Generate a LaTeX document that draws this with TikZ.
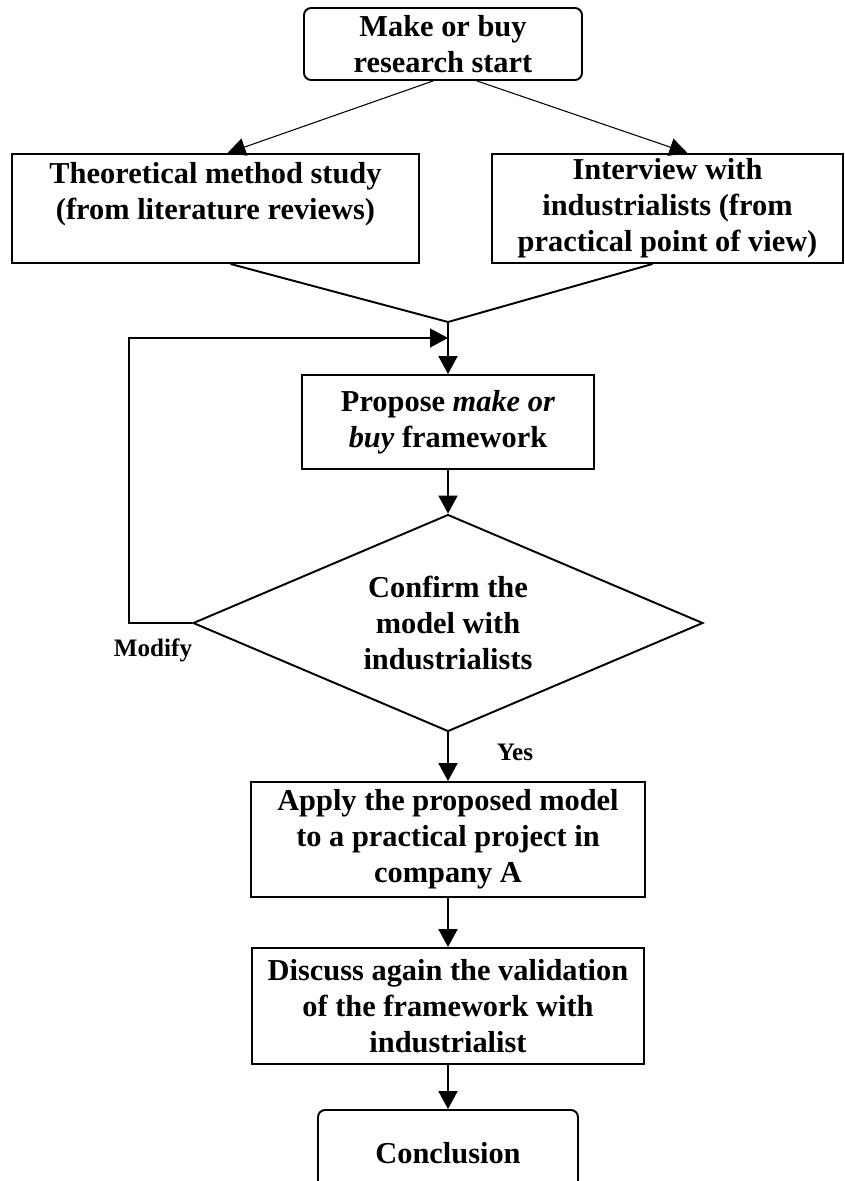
\documentclass[tikz,border=0pt]{standalone}
\usepackage{fontspec}
\setmainfont{Liberation Serif}
\usetikzlibrary{arrows.meta,shapes.geometric,calc}

\begin{document}
\begin{tikzpicture}[x=0.02cm,y=-0.02cm,
  box/.style={draw,black,line width=1.1pt,align=center,inner sep=0pt,
    font=\bfseries\fontsize{17.3}{20.5}\selectfont},
  endbox/.style={box,rounded corners=0.14cm},
  decision/.style={box,diamond,aspect=2.35},
  flow/.style={black,line width=1.1pt,-{Triangle[length=0.36cm,width=0.38cm]}},
  thinflow/.style={black,line width=0.6pt,-{Triangle[length=0.36cm,width=0.36cm]}},
  tag/.style={font=\bfseries\fontsize{14.3}{17}\selectfont}]

\useasboundingbox (0,0) rectangle (845,1181);

\node[endbox,minimum width=5.56cm,minimum height=1.44cm] (start) at (443,44) {Make or buy\\research start};
\node[box,minimum width=8.14cm,minimum height=2.18cm] (theory) at (215.5,208.5) {Theoretical method study\\(from literature reviews)\\ \mbox{}};
\node[box,minimum width=7.02cm,minimum height=2.18cm] (interview) at (667.5,208.5) {Interview with\\industrialists (from\\practical point of view)};
\node[box,minimum width=5.84cm,minimum height=1.88cm] (propose) at (448,422) {Propose \textit{make or}\\\textit{buy} framework};
\node[decision,minimum width=10.2cm,minimum height=4.34cm] (confirm) at (448,623) {Confirm the\\model with\\industrialists};
\node[box,minimum width=7.88cm,minimum height=2.3cm] (apply) at (448,839.5) {Apply the proposed model\\to a practical project in\\company A};
\node[box,minimum width=7.84cm,minimum height=2.32cm] (discuss) at (448,1006) {Discuss again the validation\\of the framework with\\industrialist};
\node[endbox,minimum width=5.2cm,minimum height=1.72cm] (conclusion) at (448,1153) {Conclusion};

\node[tag] (modify) at (153,650) {Modify};
\node[tag] (yes) at (515,752) {Yes};

\coordinate (merge) at (448,322);
\coordinate (loopcorner) at (129,623);
\coordinate (loopend) at (448,338);

\draw[thinflow] ($(start.south)+(-10,0)$) -- ($(theory.north)+(12,0)$);
\draw[thinflow] ($(start.south)+(34,0)$) -- ($(interview.north)+(20,0)$);

\draw[black,line width=1.1pt] ($(theory.south)+(15,0)$) -- (merge) -- ($(interview.south)+(-15,0)$);
\draw[flow] (merge) -- (propose.north);

\draw[flow] (propose) -- (confirm);
\draw[black,line width=0.8pt,-{Triangle[length=0.36cm,width=0.38cm]}] (confirm.west) -- (loopcorner) |- (loopend);

\draw[flow] (confirm) -- (apply);
\draw[flow] (apply) -- (discuss);
\draw[flow] (discuss) -- (conclusion);

\end{tikzpicture}
\end{document}
